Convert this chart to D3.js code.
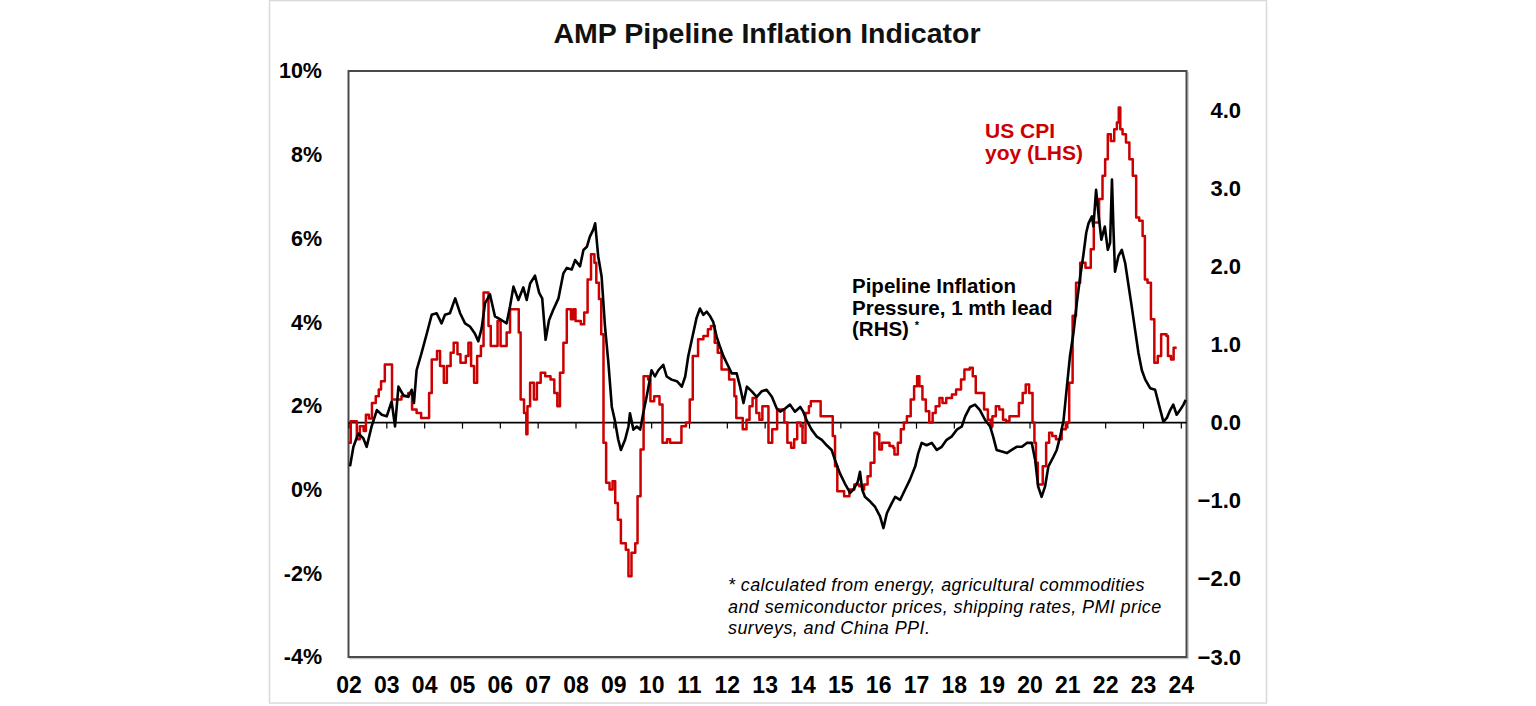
<!DOCTYPE html>
<html>
<head>
<meta charset="utf-8">
<script src="https://cdn.jsdelivr.net/npm/d3@7"></script>
<style>
  body { margin: 0; background: #fff; }
  svg { display: block; }
  text { font-family: Arial, "Liberation Sans", sans-serif; }
</style>
</head>
<body>
<div id="chart"></div>
<script>
// tick labels
const yearTicks = d3.range(2002, 2025);
const yearLabels = ['02','03','04','05','06','07','08','09','10','11','12','13','14','15','16','17','18','19','20','21','22','23','24'];
const leftTicks = [-4, -2, 0, 2, 4, 6, 8, 10];
const rightTicks = [-3, -2, -1, 0, 1, 2, 3, 4];

// US CPI yoy, % (LHS) - [decimal year, value], monthly steps
const cpiSeries = [
    [2002.00,1.12],[2002.06,1.63],[2002.22,1.20],[2002.30,1.51],[2002.40,1.40],[2002.46,1.79],[2002.54,1.70],
    [2002.62,2.07],[2002.72,2.23],[2002.80,2.39],[2002.86,2.59],[2002.96,2.99],[2003.15,2.15],[2003.40,2.23],
    [2003.58,2.31],[2003.68,1.91],[2003.80,1.83],[2003.92,1.71],[2004.13,2.31],[2004.20,3.11],[2004.34,3.31],
    [2004.42,2.95],[2004.52,2.55],[2004.60,2.95],[2004.70,3.27],[2004.78,3.51],[2004.88,3.23],[2004.96,3.03],
    [2005.10,3.19],[2005.17,3.51],[2005.24,2.95],[2005.32,2.55],[2005.40,3.19],[2005.50,3.43],[2005.57,4.71],
    [2005.70,3.91],[2005.76,3.43],[2005.94,4.03],[2006.02,3.43],[2006.18,3.75],[2006.27,4.31],[2006.50,3.75],
    [2006.55,2.15],[2006.64,1.83],[2006.70,1.32],[2006.73,1.99],[2006.80,2.55],[2006.90,2.15],[2006.98,2.55],
    [2007.08,2.79],[2007.20,2.71],[2007.34,2.63],[2007.44,2.31],[2007.52,1.99],[2007.59,2.79],[2007.68,3.51],
    [2007.77,4.31],[2007.88,4.07],[2007.94,4.31],[2008.00,4.03],[2008.14,3.95],[2008.23,4.23],[2008.32,5.02],
    [2008.41,5.62],[2008.50,5.42],[2008.55,4.94],[2008.62,4.55],[2008.68,3.71],[2008.74,1.12],[2008.81,0.16],
    [2008.90,0.00],[2008.98,0.20],[2009.05,-0.32],[2009.12,-0.72],[2009.20,-1.28],[2009.33,-1.44],[2009.40,-2.07],
    [2009.48,-1.51],[2009.58,-1.28],[2009.64,-0.16],[2009.72,0.96],[2009.80,2.71],[2009.92,2.63],[2009.98,2.11],
    [2010.08,2.23],[2010.22,2.03],[2010.30,1.12],[2010.42,1.20],[2010.50,1.12],[2010.80,1.51],[2010.92,1.60],
    [2011.02,2.15],[2011.10,3.19],[2011.24,3.59],[2011.38,3.67],[2011.50,3.83],[2011.58,3.91],[2011.68,3.51],
    [2011.76,3.27],[2011.86,2.87],[2012.06,2.63],[2012.20,2.23],[2012.25,1.71],[2012.42,1.44],[2012.52,1.67],
    [2012.60,1.99],[2012.68,2.19],[2012.78,1.83],[2012.86,1.67],[2012.94,1.99],[2013.10,1.12],[2013.20,1.44],
    [2013.33,1.91],[2013.52,1.60],[2013.60,1.12],[2013.70,1.00],[2013.78,1.20],[2013.86,1.60],[2013.95,1.51],
    [2014.00,1.12],[2014.08,1.83],[2014.17,1.99],[2014.22,2.11],[2014.48,1.75],[2014.80,1.28],[2014.86,0.56],
    [2014.92,-0.04],[2015.10,-0.16],[2015.24,0.00],[2015.37,0.12],[2015.50,0.08],[2015.58,0.00],[2015.63,0.12],
    [2015.72,0.32],[2015.80,0.64],[2015.90,1.36],[2015.98,1.32],[2016.03,0.96],[2016.10,1.12],[2016.30,1.04],
    [2016.40,1.00],[2016.43,0.84],[2016.52,1.12],[2016.60,1.44],[2016.68,1.60],[2016.76,1.75],[2016.86,2.15],
    [2016.95,2.47],[2017.03,2.71],[2017.09,2.47],[2017.17,2.15],[2017.26,1.87],[2017.35,1.60],[2017.44,1.83],
    [2017.52,1.99],[2017.62,2.19],[2017.70,2.07],[2017.80,2.19],[2017.95,2.27],[2018.06,2.39],[2018.19,2.63],
    [2018.28,2.87],[2018.42,2.91],[2018.50,2.71],[2018.58,2.31],[2018.80,1.91],[2018.90,1.67],[2018.98,1.51],
    [2019.02,1.75],[2019.11,1.99],[2019.20,1.91],[2019.30,1.67],[2019.38,1.63],[2019.47,1.75],[2019.72,2.07],
    [2019.82,2.31],[2019.90,2.51],[2019.99,2.31],[2020.08,1.60],[2020.13,1.12],[2020.17,0.64],[2020.22,0.12],
    [2020.35,0.56],[2020.44,1.12],[2020.52,1.36],[2020.60,1.28],[2020.70,1.20],[2020.85,1.44],[2020.96,1.60],
    [2021.05,2.55],[2021.14,4.15],[2021.23,4.94],[2021.34,5.42],[2021.48,5.30],[2021.62,5.74],[2021.70,6.38],
    [2021.84,6.94],[2021.93,7.50],[2022.00,7.89],[2022.07,8.49],[2022.15,8.33],[2022.24,8.61],[2022.31,8.77],
    [2022.36,9.13],[2022.40,8.61],[2022.46,8.49],[2022.55,8.29],[2022.64,7.89],[2022.73,7.50],[2022.82,6.50],
    [2022.90,6.42],[2022.99,6.06],[2023.05,5.02],[2023.12,4.94],[2023.21,4.07],[2023.30,3.03],[2023.39,3.19],
    [2023.48,3.71],[2023.62,3.67],[2023.66,3.19],[2023.74,3.11],[2023.81,3.39],[2023.89,3.39]
];

// Pipeline inflation pressure, 1 mth lead (RHS) - [decimal year, value]
const pipelineSeries = [
    [2002.04,-0.56],[2002.13,-0.31],[2002.26,-0.14],[2002.39,-0.20],[2002.48,-0.31],[2002.61,-0.05],[2002.75,0.16],
    [2002.88,0.10],[2003.01,0.08],[2003.14,0.27],[2003.23,-0.05],[2003.32,0.46],[2003.45,0.35],[2003.58,0.33],
    [2003.67,0.42],[2003.73,0.25],[2003.80,0.67],[2003.93,0.89],[2004.07,1.14],[2004.20,1.38],[2004.33,1.40],
    [2004.46,1.27],[2004.55,1.38],[2004.68,1.40],[2004.82,1.59],[2004.95,1.40],[2005.08,1.27],[2005.21,1.23],
    [2005.34,1.14],[2005.43,1.04],[2005.52,1.21],[2005.61,1.53],[2005.74,1.64],[2005.87,1.36],[2006.05,1.31],
    [2006.18,1.27],[2006.27,1.49],[2006.36,1.74],[2006.49,1.57],[2006.62,1.73],[2006.71,1.57],[2006.80,1.78],
    [2006.93,1.88],[2007.04,1.66],[2007.12,1.59],[2007.21,1.06],[2007.30,1.31],[2007.41,1.44],[2007.55,1.59],
    [2007.68,1.91],[2007.77,1.98],[2007.90,1.96],[2007.99,2.08],[2008.12,2.00],[2008.21,2.21],[2008.30,2.25],
    [2008.38,2.38],[2008.47,2.47],[2008.52,2.55],[2008.60,2.13],[2008.69,1.87],[2008.78,1.23],[2008.87,0.76],
    [2008.96,0.20],[2009.04,0.03],[2009.13,-0.22],[2009.20,-0.35],[2009.31,-0.22],[2009.40,-0.05],[2009.44,0.12],
    [2009.53,-0.09],[2009.62,-0.05],[2009.71,-0.09],[2009.79,0.12],[2009.88,0.33],[2010.01,0.67],[2010.10,0.59],
    [2010.19,0.67],[2010.32,0.74],[2010.41,0.59],[2010.54,0.55],[2010.68,0.53],[2010.81,0.46],[2010.90,0.59],
    [2010.98,0.85],[2011.11,1.14],[2011.20,1.34],[2011.29,1.46],[2011.38,1.38],[2011.47,1.42],[2011.56,1.36],
    [2011.64,1.29],[2011.73,1.10],[2011.82,0.97],[2011.91,0.85],[2012.00,0.76],[2012.13,0.63],[2012.26,0.63],
    [2012.35,0.46],[2012.44,0.25],[2012.53,0.46],[2012.66,0.40],[2012.79,0.33],[2012.92,0.40],[2013.05,0.42],
    [2013.19,0.33],[2013.32,0.18],[2013.41,0.14],[2013.54,0.18],[2013.67,0.23],[2013.80,0.14],[2013.94,0.20],
    [2014.02,0.14],[2014.11,0.03],[2014.24,-0.09],[2014.38,-0.18],[2014.51,-0.22],[2014.64,-0.29],[2014.77,-0.35],
    [2014.86,-0.48],[2014.99,-0.65],[2015.12,-0.78],[2015.26,-0.90],[2015.34,-0.86],[2015.46,-0.76],[2015.52,-0.63],
    [2015.58,-0.86],[2015.65,-0.95],[2015.79,-1.01],[2015.92,-1.08],[2016.05,-1.20],[2016.14,-1.35],[2016.23,-1.16],
    [2016.36,-1.03],[2016.45,-0.95],[2016.58,-0.99],[2016.71,-0.86],[2016.84,-0.73],[2016.98,-0.56],[2017.06,-0.39],
    [2017.15,-0.26],[2017.28,-0.29],[2017.42,-0.26],[2017.55,-0.35],[2017.68,-0.31],[2017.81,-0.22],[2017.94,-0.18],
    [2018.08,-0.09],[2018.21,-0.05],[2018.30,0.08],[2018.43,0.20],[2018.56,0.23],[2018.69,0.16],[2018.83,0.03],
    [2018.96,-0.05],[2019.04,-0.18],[2019.13,-0.35],[2019.27,-0.37],[2019.40,-0.39],[2019.53,-0.35],[2019.66,-0.31],
    [2019.80,-0.31],[2019.93,-0.26],[2020.06,-0.26],[2020.15,-0.48],[2020.23,-0.82],[2020.32,-0.95],[2020.41,-0.82],
    [2020.50,-0.56],[2020.63,-0.44],[2020.72,-0.35],[2020.81,-0.18],[2020.90,0.03],[2020.98,0.42],[2021.07,0.85],
    [2021.16,1.14],[2021.25,1.53],[2021.34,1.87],[2021.42,2.13],[2021.50,2.43],[2021.56,2.55],[2021.65,2.64],
    [2021.69,2.51],[2021.76,2.98],[2021.83,2.64],[2021.90,2.34],[2021.99,2.51],[2022.07,2.21],[2022.13,2.30],
    [2022.18,3.11],[2022.22,2.47],[2022.26,1.93],[2022.35,2.13],[2022.44,2.21],[2022.53,2.04],[2022.61,1.78],
    [2022.70,1.49],[2022.79,1.19],[2022.88,0.89],[2022.97,0.67],[2023.06,0.55],[2023.19,0.44],[2023.32,0.42],
    [2023.41,0.25],[2023.54,0.01],[2023.63,0.06],[2023.72,0.16],[2023.80,0.23],[2023.89,0.10],[2023.98,0.16],
    [2024.07,0.23],[2024.13,0.29]
];

const chart_width = 1536;
const chart_height = 706;
const plot = { left: 348.5, right: 1186.5, top: 71, bottom: 657 };
const red = '#cc0000';
const font = 'Arial, "Liberation Sans", sans-serif';

const svg = d3.select('#chart')
    .append('svg')
    .attr('width', chart_width)
    .attr('height', chart_height);

// outer light border
svg.append('rect')
    .attr('x', 269.5).attr('y', 0.5)
    .attr('width', 997).attr('height', 702.5)
    .attr('fill', 'none')
    .attr('stroke', '#d9d9d9')
    .attr('stroke-width', 1.5);

// scales
const x_scale = d3.scaleLinear()
    .domain([2002, 2024.15])
    .range([plot.left, plot.right]);

const y_left = d3.scaleLinear()
    .domain([-4, 10])
    .range([plot.bottom, plot.top]);

const y_right = d3.scaleLinear()
    .domain([-3, 4.5])
    .range([plot.bottom, plot.top]);

// plot frame with a faint shadow
svg.append('rect')
    .attr('x', plot.left + 1.5).attr('y', plot.top + 1.5)
    .attr('width', plot.right - plot.left).attr('height', plot.bottom - plot.top)
    .attr('fill', 'none')
    .attr('stroke', '#c8c8c8')
    .attr('stroke-width', 1.5);
svg.append('rect')
    .attr('x', plot.left).attr('y', plot.top)
    .attr('width', plot.right - plot.left).attr('height', plot.bottom - plot.top)
    .attr('fill', '#fff')
    .attr('stroke', '#4a4a4a')
    .attr('stroke-width', 2);

// title
svg.append('text')
    .attr('x', 767).attr('y', 43)
    .attr('text-anchor', 'middle')
    .attr('font-size', 28.5)
    .attr('font-weight', 700)
    .attr('fill', '#111')
    .text('AMP Pipeline Inflation Indicator');

// left axis
const leftAxis = svg.append('g')
    .attr('transform', 'translate(322,0)')
    .call(d3.axisLeft(y_left).tickValues(leftTicks).tickSize(0).tickPadding(0).tickFormat(d => d + '%'));
leftAxis.select('.domain').remove();
leftAxis.selectAll('text')
    .attr('font-size', 21.5).attr('font-weight', 700).attr('fill', '#000')
    .attr('font-family', font);

// right axis
const rightAxis = svg.append('g')
    .attr('transform', 'translate(1241,0)')
    .call(d3.axisRight(y_right).tickValues(rightTicks).tickSize(0).tickPadding(0).tickFormat(d3.format('.1f')));
rightAxis.select('.domain').remove();
rightAxis.selectAll('text')
    .attr('text-anchor', 'end')
    .attr('font-size', 22).attr('font-weight', 700).attr('fill', '#000')
    .attr('font-family', font);

// bottom labels
const bottomAxis = svg.append('g')
    .attr('transform', 'translate(0,677)')
    .call(d3.axisBottom(x_scale).tickValues(yearTicks).tickSize(0).tickPadding(0)
        .tickFormat((d, i) => yearLabels[i]));
bottomAxis.select('.domain').remove();
bottomAxis.selectAll('text')
    .attr('font-size', 23).attr('font-weight', 700).attr('fill', '#000')
    .attr('font-family', font);

// zero line (RHS) with year ticks
const zeroAxis = svg.append('g')
    .attr('transform', `translate(0,${y_right(0)})`)
    .call(d3.axisBottom(x_scale).tickValues(yearTicks).tickSize(6).tickSizeOuter(0).tickFormat(''));
zeroAxis.select('.domain')
    .attr('d', `M${plot.left},0H${plot.right}`)
    .attr('stroke', '#000')
    .attr('stroke-width', 1.6);
zeroAxis.selectAll('.tick line').attr('stroke', '#000').attr('stroke-width', 1.2);

// lines
const cpiLine = d3.line()
    .x(d => x_scale(d[0]))
    .y(d => y_left(d[1]))
    .curve(d3.curveStepAfter);

const pipeLine = d3.line()
    .x(d => x_scale(d[0]))
    .y(d => y_right(d[1]));

svg.append('path')
    .datum(cpiSeries)
    .attr('d', cpiLine)
    .attr('fill', 'none')
    .attr('stroke', red)
    .attr('stroke-width', 2.5)
    .attr('stroke-linejoin', 'round');

svg.append('path')
    .datum(pipelineSeries)
    .attr('d', pipeLine)
    .attr('fill', 'none')
    .attr('stroke', '#000')
    .attr('stroke-width', 2.6)
    .attr('stroke-linejoin', 'round');

// annotations
const cpiLabel = svg.append('text')
    .attr('font-size', 21).attr('font-weight', 700).attr('fill', red);
cpiLabel.append('tspan').attr('x', 985).attr('y', 138).text('US CPI');
cpiLabel.append('tspan').attr('x', 985).attr('y', 160).text('yoy (LHS)');

const pipeLabel = svg.append('text')
    .attr('font-size', 20.5).attr('font-weight', 700).attr('fill', '#000');
pipeLabel.append('tspan').attr('x', 852).attr('y', 293).text('Pipeline Inflation');
pipeLabel.append('tspan').attr('x', 852).attr('y', 315).text('Pressure, 1 mth lead');
pipeLabel.append('tspan').attr('x', 852).attr('y', 336).text('(RHS) ');
pipeLabel.append('tspan').attr('font-size', 11).attr('dy', -7).text('*');

const note = svg.append('text')
    .attr('font-size', 18).attr('font-style', 'italic').attr('fill', '#000')
    .attr('letter-spacing', 0.4);
note.append('tspan').attr('x', 728).attr('y', 591).text('* calculated from energy, agricultural commodities');
note.append('tspan').attr('x', 728).attr('y', 612.5).text('and semiconductor prices, shipping rates, PMI price');
note.append('tspan').attr('x', 728).attr('y', 634).text('surveys, and China PPI.');
</script>
</body>
</html>
